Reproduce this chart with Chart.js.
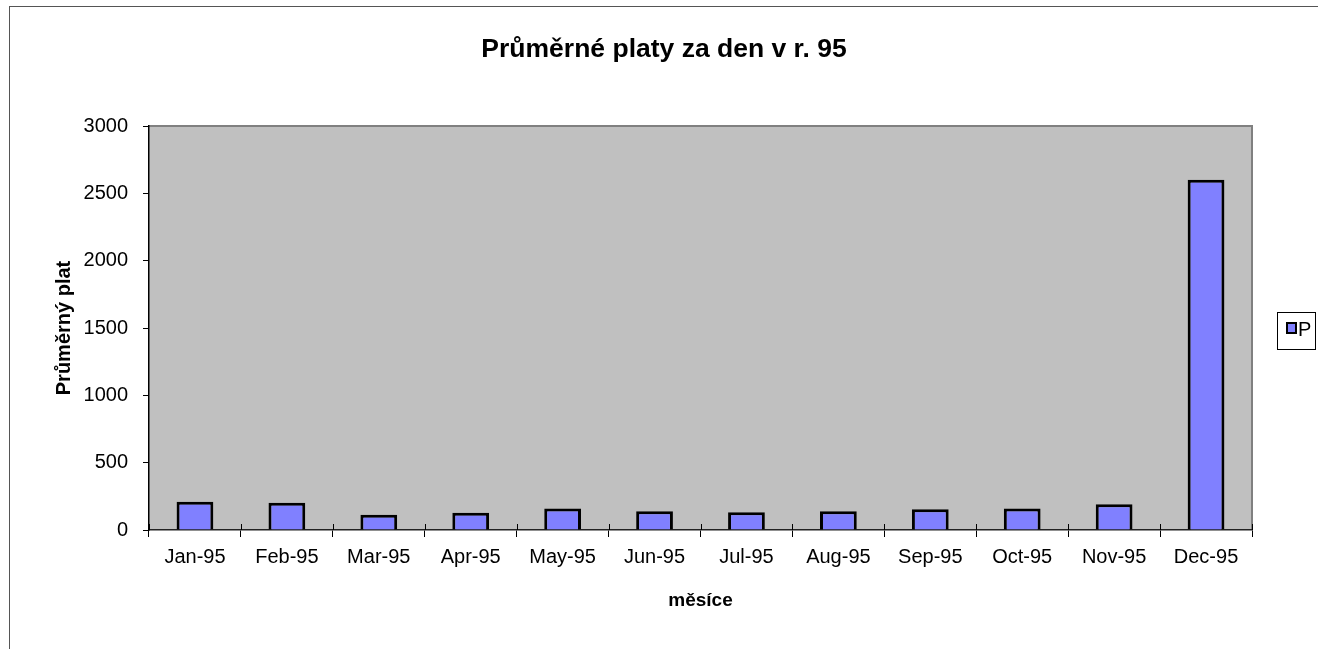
<!DOCTYPE html>
<html>
<head>
<meta charset="utf-8">
<script src="https://cdn.jsdelivr.net/npm/chart.js@4"></script>
<style>
  html, body { margin: 0; padding: 0; background: #fff; }
  #wrap { width: 1318px; height: 649px; position: relative; }
</style>
</head>
<body>
<div id="wrap"><canvas id="platyChart"></canvas></div>
<script>
// Data
const months = ['Jan-95', 'Feb-95', 'Mar-95', 'Apr-95', 'May-95', 'Jun-95',
                'Jul-95', 'Aug-95', 'Sep-95', 'Oct-95', 'Nov-95', 'Dec-95'];
const platData = [209, 202, 113, 128, 159, 139, 132, 139, 154, 159, 191, 2600];
const yTicks = [0, 500, 1000, 1500, 2000, 2500, 3000];
const chartTitle = 'Průměrné platy za den v r. 95';

const FONT = "'Liberation Sans', Arial, sans-serif";

// grey plot area + frame around the whole chart
const backdrop = {
    id: 'backdrop',
    beforeDraw(chart) {
        const { ctx, chartArea: a } = chart;
        ctx.save();
        ctx.fillStyle = '#c0c0c0';
        ctx.fillRect(a.left, a.top, a.right - a.left, a.bottom - a.top);
        ctx.strokeStyle = '#808080';
        ctx.lineWidth = 2;
        ctx.beginPath();
        ctx.moveTo(a.left, a.top);
        ctx.lineTo(a.right, a.top);
        ctx.lineTo(a.right, a.bottom);
        ctx.stroke();
        // outer chart border (runs off the right and bottom edge)
        ctx.strokeStyle = '#555';
        ctx.lineWidth = 1;
        ctx.strokeRect(9.5, 6.5, 1400, 700);
        // title, centred on the original (wider) chart frame
        ctx.fillStyle = '#000';
        ctx.font = 'bold 26.5px ' + FONT;
        ctx.textAlign = 'center';
        ctx.textBaseline = 'middle';
        ctx.fillText(chartTitle, 664, 50);
        ctx.restore();
    },
    afterDatasetsDraw(chart) {
        // short tick marks poking up into the plot area, like the original
        const { ctx, chartArea: a } = chart;
        const x = chart.scales.x;
        const step = x.getPixelForTick(1) - x.getPixelForTick(0);
        ctx.save();
        ctx.strokeStyle = '#000';
        ctx.lineWidth = 1;
        ctx.beginPath();
        for (let i = 0; i <= months.length; i++) {
            const px = Math.round(x.getPixelForTick(0) - step / 2 + i * step) + 0.5;
            ctx.moveTo(px, a.bottom);
            ctx.lineTo(px, a.bottom - 6);
        }
        ctx.stroke();
        ctx.restore();
    }
};

// small boxed legend on the right
const boxLegend = {
    id: 'boxLegend',
    afterDraw(chart) {
        const { ctx } = chart;
        const ds = chart.data.datasets[0];
        ctx.save();
        ctx.strokeStyle = '#000';
        ctx.lineWidth = 1;
        ctx.strokeRect(1277.5, 312.5, 38, 37);
        ctx.fillStyle = ds.backgroundColor;
        ctx.fillRect(1287, 323, 9, 10);
        ctx.lineWidth = 2;
        ctx.strokeRect(1287, 323, 9, 10);
        ctx.fillStyle = '#000';
        ctx.font = '20px ' + FONT;
        ctx.textBaseline = 'middle';
        ctx.fillText(ds.label, 1298, 330);
        ctx.restore();
    }
};

const platyChart = new Chart(document.getElementById('platyChart'), {
    type: 'bar',
    data: {
        labels: months,
        datasets: [{
            label: 'P',
            data: platData,
            backgroundColor: '#8080ff',
            borderColor: '#000',
            borderWidth: 3,
            barPercentage: 0.4,
            categoryPercentage: 1
        }]
    },
    options: {
        responsive: true,
        maintainAspectRatio: false,
        animation: false,
        layout: { padding: { left: 8, top: 126, right: 66, bottom: 0 } },
        plugins: {
            legend: { display: false },
            tooltip: { enabled: false },
            title: { display: false }
        },
        scales: {
            x: {
                grid: {
                    offset: true,
                    drawOnChartArea: false,
                    tickLength: 7,
                    color: '#000'
                },
                border: { color: '#222', width: 1.5 },
                ticks: {
                    color: '#000',
                    font: { family: FONT, size: 20 },
                    padding: 8,
                    maxRotation: 0,
                    autoSkip: false
                },
                title: {
                    display: true,
                    text: 'měsíce',
                    color: '#000',
                    font: { family: FONT, size: 19, weight: 'bold' },
                    padding: { top: 0, bottom: 37 }
                },
                afterFit(scale) { scale.height = 119; }
            },
            y: {
                min: 0,
                max: 3000,
                grid: {
                    drawOnChartArea: false,
                    tickLength: 6,
                    color: '#000'
                },
                border: { color: '#000', width: 1.5 },
                afterBuildTicks(scale) {
                    scale.ticks = yTicks.map(v => ({ value: v }));
                },
                ticks: {
                    color: '#000',
                    font: { family: FONT, size: 20 },
                    padding: 15,
                    callback: v => String(v)
                },
                title: {
                    display: true,
                    text: 'Průměrný plat',
                    color: '#000',
                    font: { family: FONT, size: 20, weight: 'bold' },
                    padding: { top: 44, bottom: 0 }
                },
                afterFit(scale) { scale.width = 141; }
            }
        }
    },
    plugins: [backdrop, boxLegend]
});
</script>
</body>
</html>
